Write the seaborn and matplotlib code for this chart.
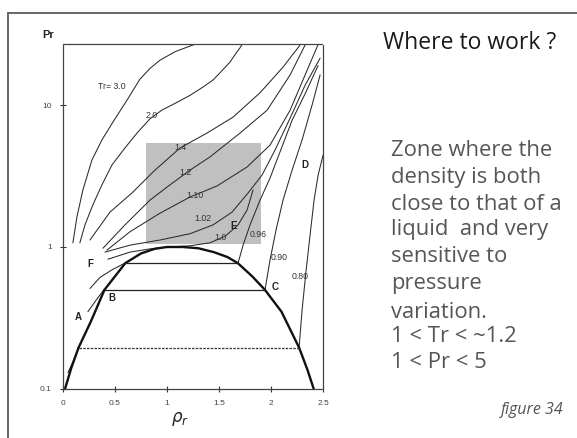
import matplotlib
matplotlib.use("Agg")
import matplotlib.pyplot as plt
import pandas as pd
import seaborn as sns
from matplotlib.lines import Line2D
from matplotlib.ticker import FixedLocator, FixedFormatter, NullLocator

# reduced density / reduced pressure
tr30_rho = [0.096, 0.135, 0.192, 0.279, 0.375, 0.481, 0.615, 0.740, 0.84, 0.933, 1.08, 1.25, 1.317]
tr30_pr = [1.07, 1.63, 2.52, 4.10, 5.68, 7.59, 10.8, 15.2, 18.2, 20.7, 23.8, 26.5, 27.5]

tr20_rho = [0.163, 0.212, 0.288, 0.375, 0.471, 0.596, 0.712, 0.837, 0.95, 1.08, 1.221, 1.34,
            1.442, 1.53, 1.606, 1.66, 1.70, 1.74]
tr20_pr = [1.07, 1.43, 1.98, 2.74, 3.78, 4.98, 6.35, 8.0, 9.2, 10.3, 11.7, 13.3,
           15.0, 17.5, 20.1, 23.0, 25.2, 28.0]

tr14_rho = [0.26, 0.452, 0.663, 0.885, 1.125, 1.385, 1.635, 1.894, 2.115, 2.279]
tr14_pr = [1.12, 1.76, 2.40, 3.48, 4.98, 6.35, 8.22, 12.2, 18.5, 26.5]

tr12_rho = [0.385, 0.596, 0.837, 1.029, 1.221, 1.413, 1.702, 1.962, 2.183, 2.327]
tr12_pr = [0.98, 1.43, 2.14, 2.74, 3.48, 4.31, 6.35, 9.2, 16.3, 26.5]

tr110_rho = [0.423, 0.644, 0.933, 1.221, 1.481, 1.769, 1.99, 2.183, 2.327, 2.45]
tr110_pr = [0.95, 1.28, 1.73, 2.25, 2.69, 3.66, 5.22, 9.2, 16.3, 26.5]

tr102_rho = [0.404, 0.644, 0.933, 1.221, 1.442, 1.625, 1.779, 1.913, 2.038, 2.183, 2.327, 2.471]
tr102_pr = [0.92, 1.03, 1.12, 1.24, 1.43, 1.76, 2.40, 3.21, 4.82, 8.09, 13.8, 21.4]

tr100_rho = [0.433, 0.644, 0.837, 1.01, 1.221, 1.413, 1.558, 1.683, 1.769, 1.827]
tr100_pr = [0.82, 0.92, 0.97, 1.0, 1.02, 1.07, 1.19, 1.43, 1.82, 2.52]

tr096_rho = [1.683, 1.731, 1.798, 1.894, 1.99, 2.087, 2.202, 2.327, 2.452]
tr096_pr = [0.77, 1.03, 1.43, 2.14, 3.06, 4.7, 7.8, 12.0, 19.0]
tr096v_rho = [0.26, 0.356, 0.471, 0.596]
tr096v_pr = [0.51, 0.61, 0.69, 0.77]

tr090_rho = [1.942, 1.99, 2.048, 2.115, 2.202, 2.298, 2.394, 2.471]
tr090_pr = [0.5, 0.81, 1.32, 2.14, 3.48, 5.68, 10.0, 16.3]
tr090v_rho = [0.24, 0.317, 0.394]
tr090v_pr = [0.35, 0.42, 0.5]

tr080_rho = [2.269, 2.298, 2.337, 2.375, 2.413, 2.452, 2.50]
tr080_pr = [0.195, 0.36, 0.69, 1.22, 2.14, 3.21, 4.45]
tr080v_rho = [0.048, 0.096, 0.154]
tr080v_pr = [0.13, 0.155, 0.195]

# coexistence dome
dome_rho = [0.02, 0.08, 0.15, 0.27, 0.40, 0.60, 0.75, 0.88, 1.0, 1.15, 1.30, 1.45,
            1.58, 1.68, 1.82, 1.94, 2.10, 2.27, 2.35, 2.41]
dome_pr = [0.1, 0.14, 0.195, 0.3, 0.5, 0.77, 0.9, 0.97, 1.0, 1.0, 0.98, 0.92,
           0.85, 0.77, 0.62, 0.5, 0.35, 0.195, 0.136, 0.1]

# tie lines
tie_pr = [0.77, 0.5, 0.195]
tie_left = [0.60, 0.394, 0.15]
tie_right = [1.68, 1.94, 2.27]

# "where to work" zone
zone_rho = [0.8, 1.9]
zone_pr = [1.05, 5.4]

curves = {
    "3.0": (tr30_rho, tr30_pr), "2.0": (tr20_rho, tr20_pr), "1.4": (tr14_rho, tr14_pr),
    "1.2": (tr12_rho, tr12_pr), "1.10": (tr110_rho, tr110_pr), "1.02": (tr102_rho, tr102_pr),
    "1.0": (tr100_rho, tr100_pr), "0.96": (tr096_rho, tr096_pr), "0.96v": (tr096v_rho, tr096v_pr),
    "0.90": (tr090_rho, tr090_pr), "0.90v": (tr090v_rho, tr090v_pr),
    "0.80": (tr080_rho, tr080_pr), "0.80v": (tr080v_rho, tr080v_pr),
}
df = pd.concat([pd.DataFrame({"rho": r, "pr": p, "curve": k}) for k, (r, p) in curves.items()],
               ignore_index=True)

sns.set_theme(style="white")
plt.rcParams["font.family"] = ["Liberation Sans", "DejaVu Sans"]

fig = plt.figure(figsize=(5.77, 4.38), dpi=100)
ax = fig.add_axes([0.109, 0.112, 0.451, 0.788])

ax.fill_between(zone_rho, zone_pr[0], zone_pr[1], color="#c0c0c0", lw=0, zorder=0)

sns.lineplot(data=df, x="rho", y="pr", units="curve", estimator=None, sort=False,
             color="#2a2a2a", lw=0.75, ax=ax, legend=False)
sns.lineplot(x=dome_rho, y=dome_pr, sort=False, color="#111111", lw=1.7, ax=ax)

ax.hlines(tie_pr[:2], tie_left[:2], tie_right[:2], color="#222222", lw=0.9)
ax.hlines(tie_pr[2:], tie_left[2:], tie_right[2:], color="#333333", lw=0.9, linestyles=(0, (2, 1)))

ax.set_yscale("log")
ax.set_xlim(0, 2.5)
ax.set_ylim(0.1, 27)
ax.xaxis.set_major_locator(FixedLocator([0, 0.5, 1, 1.5, 2, 2.5]))
ax.xaxis.set_major_formatter(FixedFormatter(["0", "0.5", "1", "1.5", "2", "2.5"]))
ax.yaxis.set_major_locator(FixedLocator([0.1, 1, 10]))
ax.yaxis.set_major_formatter(FixedFormatter(["0.1", "1", "10"]))
ax.yaxis.set_minor_locator(NullLocator())
ax.tick_params(axis="both", which="major", direction="inout", length=4, width=0.8,
               labelsize=6, labelcolor="#444444", color="#333333", pad=6,
               bottom=True, left=True)
ax.set_xlabel("")
ax.set_ylabel("")
for s in ax.spines.values():
    s.set_color("#444444")
    s.set_linewidth(0.9)
    s.set_linestyle((0, (3, 1)))

# curve labels
iso_text = ["Tr= 3.0", "2.0", "1.4", "1.2", "1.10", "1.02", "1.0", "0.96", "0.90", "0.80"]
iso_rho = [0.47, 0.85, 1.13, 1.18, 1.27, 1.34, 1.51, 1.88, 2.08, 2.28]
iso_pr = [13.4, 8.5, 5.06, 3.37, 2.32, 1.6, 1.16, 1.22, 0.85, 0.62]
for t, x, y in zip(iso_text, iso_rho, iso_pr):
    ax.text(x, y, t, fontsize=6.3, color="#333333", ha="center", va="center")

pt_text = ["A", "B", "C", "D", "E", "F"]
pt_rho = [0.144, 0.47, 2.04, 2.32, 1.644, 0.26]
pt_pr = [0.32, 0.44, 0.52, 3.78, 1.41, 0.76]
for t, x, y in zip(pt_text, pt_rho, pt_pr):
    ax.text(x, y, t, fontsize=7, fontweight="bold", color="#222222", ha="center", va="center")

fig.text(0.083, 0.921, "Pr", fontsize=8, fontweight="bold", color="#222222", ha="center", va="center")
fig.text(0.312, 0.043, r"$\rho_r$", fontsize=12, color="#222222", ha="center", va="center")

# slide frame
fig.add_artist(Line2D([0.014, 0.014], [0.0, 0.970], transform=fig.transFigure, color="#666666", lw=1.4))
fig.add_artist(Line2D([0.014, 1.0], [0.970, 0.970], transform=fig.transFigure, color="#666666", lw=1.4))

side_font = ["Open Sans", "DejaVu Sans"]
fig.text(0.664, 0.901, "Where to work ?", fontsize=16.5, color="#1a1a1a", family=side_font,
         ha="left", va="center")
body = ["Zone where the", "density is both", "close to that of a", "liquid  and very",
        "sensitive to", "pressure", "variation.", "1 < Tr < ~1.2", "1 < Pr < 5"]
body_y = [150, 177, 204, 230, 257, 284, 312, 337, 362]
for line, yy in zip(body, body_y):
    fig.text(0.678, 1 - yy / 438, line, fontsize=15.8, color="#555555", family=side_font,
             ha="left", va="center")
fig.text(0.868, 0.064, "figure 34", fontsize=11.5, style="italic", color="#555555",
         family=side_font, ha="left", va="center")

fig.savefig("out.png", dpi=100)
